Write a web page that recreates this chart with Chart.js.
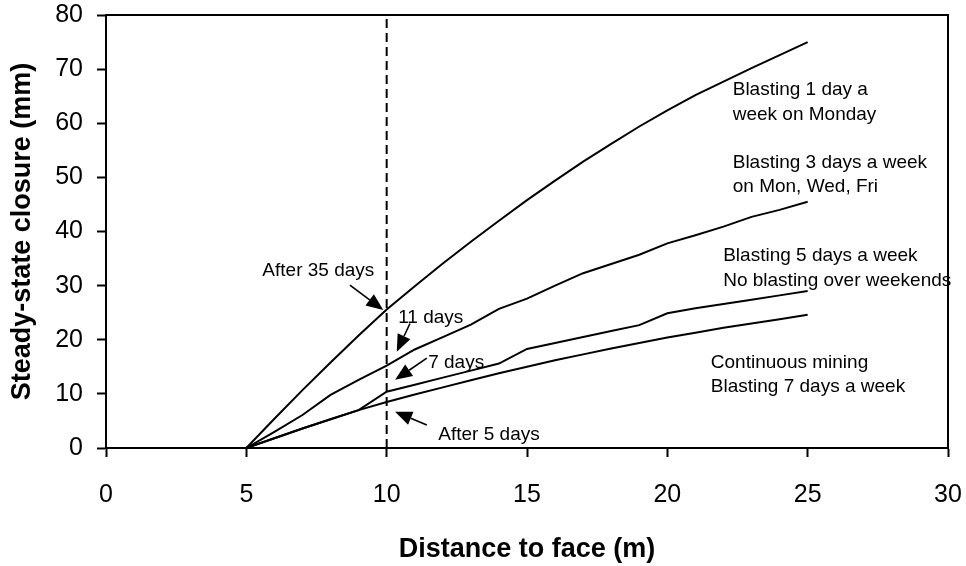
<!DOCTYPE html>
<html>
<head>
<meta charset="utf-8">
<script src="https://cdn.jsdelivr.net/npm/chart.js@4.4.1/dist/chart.umd.min.js"></script>
<style>
  html, body { margin: 0; padding: 0; background: #fff; }
  #wrap { width: 966px; height: 566px; }
</style>
</head>
<body>
<div id="wrap"><canvas id="c" width="966" height="566"></canvas></div>
<script>
// ---- data ----
const distance = [5, 6, 7, 8, 9, 10, 11, 12, 13, 14, 15, 16, 17, 18, 19, 20, 21, 22, 23, 24, 25];
const blast1day = [0, 5.4, 10.7, 15.8, 20.8, 25.6, 29.9, 34.1, 38.1, 42.0, 45.8, 49.4, 52.9, 56.2, 59.4, 62.4, 65.2, 67.7, 70.2, 72.6, 75.0];
const blast3day = [0, 3.0, 6.1, 9.8, 12.6, 15.2, 18.2, 20.5, 22.8, 25.7, 27.6, 30.0, 32.3, 34.0, 35.7, 37.8, 39.3, 40.9, 42.7, 44.0, 45.5];
const blast5day = [0, 1.8, 3.6, 5.3, 7.0, 10.4, 11.7, 13.0, 14.3, 15.6, 18.3, 19.4, 20.5, 21.6, 22.7, 24.9, 25.8, 26.6, 27.4, 28.2, 29.0];
const blast7day = [0, 1.8, 3.6, 5.3, 7.0, 8.5, 9.9, 11.2, 12.5, 13.8, 15.0, 16.2, 17.3, 18.4, 19.4, 20.4, 21.3, 22.2, 23.0, 23.8, 24.6];
const markerDistance = [10, 10];
const markerClosure = [0, 80];
const xTicks = [0, 5, 10, 15, 20, 25, 30];
const yTicks = [0, 10, 20, 30, 40, 50, 60, 70, 80];

const seriesLabels = ['Blasting 1 day a week', 'Blasting 3 days a week', 'Blasting 5 days a week', 'Continuous mining'];

// annotation texts (positions are in data units)
const notes = [
  { lines: ['Blasting 1 day a', 'week on Monday'], x: 22.33, y: 66.1 },
  { lines: ['Blasting 3 days a week', 'on Mon, Wed, Fri'], x: 22.33, y: 52.7 },
  { lines: ['Blasting 5 days a week', 'No blasting over weekends'], x: 21.99, y: 35.5 },
  { lines: ['Continuous mining', 'Blasting 7 days a week'], x: 21.55, y: 15.8 },
  { lines: ['After 35 days'], x: 5.57, y: 32.8 },
  { lines: ['11 days'], x: 10.41, y: 24.0 },
  { lines: ['7 days'], x: 11.48, y: 15.8 },
  { lines: ['After 5 days'], x: 11.84, y: 2.4 }
];
const arrows = [
  { from: [8.69, 30.1], to: [9.88, 25.5] },
  { from: [10.83, 23.0], to: [10.36, 17.8] },
  { from: [11.43, 16.6], to: [10.30, 12.6] },
  { from: [11.43, 4.25], to: [10.30, 6.7] }
];

const FONT = "'Liberation Sans', Arial, Helvetica, sans-serif";

function pts(xs, ys) { return xs.map((x, i) => ({ x: x, y: ys[i] })); }

const lineStyle = { borderColor: '#000', borderWidth: 2, pointRadius: 0, tension: 0, fill: false };

function zeroPad(s) { s.paddingLeft = 0; s.paddingRight = 0; s.paddingTop = 0; s.paddingBottom = 0; }

const annotPlugin = {
  id: 'annot',
  afterDatasetsDraw(chart) {
    const ctx = chart.ctx;
    const xs = chart.scales.x, ys = chart.scales.y;
    const a = chart.chartArea;
    ctx.save();
    // frame
    ctx.strokeStyle = '#000';
    ctx.lineWidth = 2;
    ctx.strokeRect(a.left, a.top, a.right - a.left, a.bottom - a.top);
    // texts
    ctx.fillStyle = '#000';
    ctx.font = '19px ' + FONT;
    ctx.textAlign = 'left';
    ctx.textBaseline = 'middle';
    notes.forEach(n => {
      const px = xs.getPixelForValue(n.x);
      const py = ys.getPixelForValue(n.y);
      n.lines.forEach((t, i) => ctx.fillText(t, px, py + i * 24.5));
    });
    // arrows
    arrows.forEach(ar => {
      const x1 = xs.getPixelForValue(ar.from[0]), y1 = ys.getPixelForValue(ar.from[1]);
      const x2 = xs.getPixelForValue(ar.to[0]), y2 = ys.getPixelForValue(ar.to[1]);
      const ang = Math.atan2(y2 - y1, x2 - x1);
      const L = 17, W = 7;
      const bx = x2 - L * Math.cos(ang), by = y2 - L * Math.sin(ang);
      ctx.lineWidth = 1.6;
      ctx.beginPath();
      ctx.moveTo(x1, y1);
      ctx.lineTo(bx, by);
      ctx.stroke();
      ctx.beginPath();
      ctx.moveTo(x2, y2);
      ctx.lineTo(bx + W * Math.sin(ang), by - W * Math.cos(ang));
      ctx.lineTo(bx - W * Math.sin(ang), by + W * Math.cos(ang));
      ctx.closePath();
      ctx.fill();
    });
    ctx.restore();
  }
};

new Chart(document.getElementById('c'), {
  type: 'line',
  data: {
    datasets: [
      Object.assign({ label: seriesLabels[0], data: pts(distance, blast1day) }, lineStyle),
      Object.assign({ label: seriesLabels[1], data: pts(distance, blast3day) }, lineStyle),
      Object.assign({ label: seriesLabels[2], data: pts(distance, blast5day) }, lineStyle),
      Object.assign({ label: seriesLabels[3], data: pts(distance, blast7day) }, lineStyle),
      Object.assign({ label: 'marker', data: pts(markerDistance, markerClosure), borderDash: [9, 5] }, lineStyle)
    ]
  },
  options: {
    responsive: false,
    animation: false,
    layout: { padding: { top: 15, right: 18, bottom: 0, left: 0 } },
    plugins: { legend: { display: false }, tooltip: { enabled: false } },
    scales: {
      x: {
        type: 'linear',
        min: 0, max: 30,
        afterFit(s) { s.height = 118; zeroPad(s); },
        afterBuildTicks(s) { s.ticks = xTicks.map(v => ({ value: v })); },
        grid: { drawOnChartArea: false, drawTicks: true, tickLength: 9, tickColor: '#000', tickWidth: 2 },
        border: { display: true, color: '#000', width: 2 },
        ticks: { color: '#000', font: { family: FONT, size: 25 }, padding: 23, maxRotation: 0 },
        title: { display: true, text: 'Distance to face (m)', color: '#000',
                 font: { family: FONT, size: 27, weight: 'bold', lineHeight: 1.2 }, padding: { top: 0, bottom: 0 } }
      },
      y: {
        type: 'linear',
        min: 0, max: 80,
        afterFit(s) { s.width = 106; zeroPad(s); },
        afterBuildTicks(s) { s.ticks = yTicks.map(v => ({ value: v })); },
        grid: { drawOnChartArea: false, drawTicks: true, tickLength: 9, tickColor: '#000', tickWidth: 2 },
        border: { display: true, color: '#000', width: 2 },
        ticks: { color: '#000', font: { family: FONT, size: 25 }, padding: 14 },
        title: { display: true, text: 'Steady-state closure (mm)', color: '#000',
                 font: { family: FONT, size: 27, weight: 'bold', lineHeight: 1.2 }, padding: { top: 6, bottom: 0 } }
      }
    }
  },
  plugins: [annotPlugin]
});
</script>
</body>
</html>
